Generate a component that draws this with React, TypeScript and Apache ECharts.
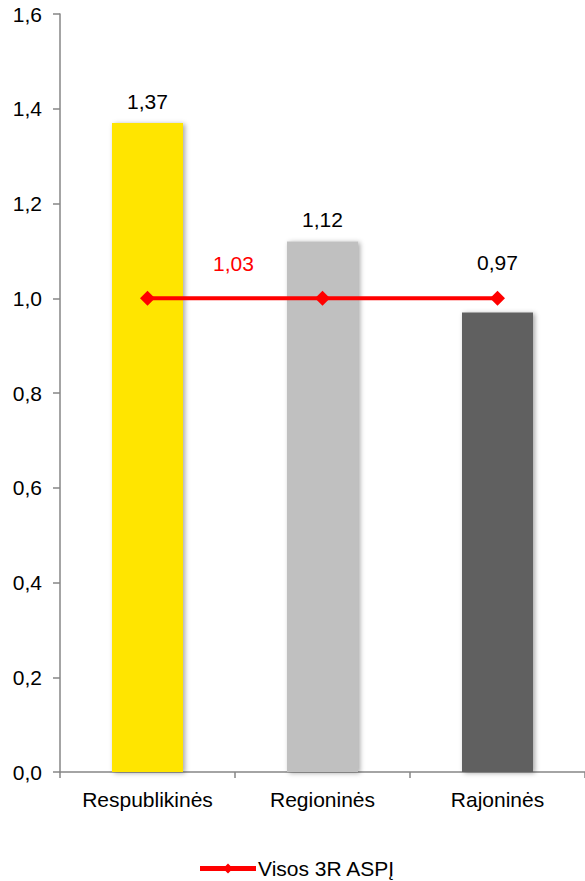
import React, { useEffect, useRef } from "react";
import * as echarts from "echarts";

const categories = ["Respublikinės", "Regioninės", "Rajoninės"];
const barValues = [1.37, 1.12, 0.97];
const barColors = ["#FFE500", "#C0C0C0", "#606060"];
const barLabelLift = [0, 0, 28];
const lineName = "Visos 3R ASPĮ";
const lineValues = [1.0, 1.0, 1.0];
const lineLabel = "1,03";

const fmt = (v: number, d: number) => v.toFixed(d).replace(".", ",");
const FONT = "'Liberation Sans', Arial, sans-serif";
const FS = 21;

export default function App() {
  const ref = useRef<HTMLDivElement>(null);
  useEffect(() => {
    if (!ref.current) return;
    const chart = echarts.init(ref.current, null, { renderer: "svg" });
    chart.setOption({
      animation: false,
      textStyle: { fontFamily: FONT, color: "#000" },
      grid: { left: 60, right: 0, top: 14, bottom: 109, containLabel: false },
      legend: {
        data: [
          {
            name: lineName,
            icon: "path://M0,5.5 L56,5.5 L56,10.5 L0,10.5 Z M28,3 L33,8 L28,13 L23,8 Z",
          },
        ],
        left: 200,
        bottom: 2,
        padding: 0,
        itemWidth: 56,
        itemHeight: 16,
        itemGap: 4,
        textStyle: { fontFamily: FONT, fontSize: FS, color: "#000", padding: [0, 0, 0, -3] },
      },
      xAxis: {
        type: "category",
        data: categories,
        boundaryGap: true,
        axisLine: { lineStyle: { color: "#868686", width: 1.5 } },
        axisTick: { show: true, length: 6, lineStyle: { color: "#868686", width: 1.5 } },
        axisLabel: { fontFamily: FONT, fontSize: FS, color: "#000", margin: 17 },
      },
      yAxis: {
        type: "value",
        min: 0,
        max: 1.6,
        interval: 0.2,
        splitLine: { show: false },
        axisLine: { show: true, lineStyle: { color: "#868686", width: 1.5 } },
        axisTick: { show: true, length: 7, lineStyle: { color: "#868686", width: 1.5 } },
        axisLabel: {
          fontFamily: FONT,
          fontSize: FS,
          color: "#000",
          margin: 18,
          formatter: (v: number) => fmt(v, 1),
        },
      },
      series: [
        {
          type: "bar",
          name: "bars",
          barWidth: 71,
          data: barValues.map((v, i) => ({
            value: v,
            itemStyle: {
              color: barColors[i],
              shadowBlur: 5,
              shadowColor: "rgba(0,0,0,0.35)",
              shadowOffsetX: 2,
              shadowOffsetY: 1,
            },
            label: { offset: [0, -barLabelLift[i]] },
          })),
          label: {
            show: true,
            position: "top",
            distance: 11,
            fontFamily: FONT,
            fontSize: FS,
            color: "#000",
            formatter: (p: any) => fmt(p.value, 2),
          },
        },
        {
          type: "line",
          name: lineName,
          data: lineValues.map((v, i) => ({
            value: v,
            label:
              i === 0
                ? {
                    show: true,
                    position: "top",
                    offset: [86, -12],
                    formatter: () => lineLabel,
                    fontFamily: FONT,
                    fontSize: FS,
                    color: "#FF0000",
                  }
                : { show: false },
          })),
          symbol: "diamond",
          symbolSize: 15,
          lineStyle: { color: "#FF0000", width: 4 },
          itemStyle: { color: "#FF0000" },
          z: 5,
        },
      ],
    });
    return () => chart.dispose();
  }, []);
  return (
    <div
      ref={ref}
      style={{ position: "absolute", left: 0, top: 0, width: 585, height: 881 }}
    />
  );
}
